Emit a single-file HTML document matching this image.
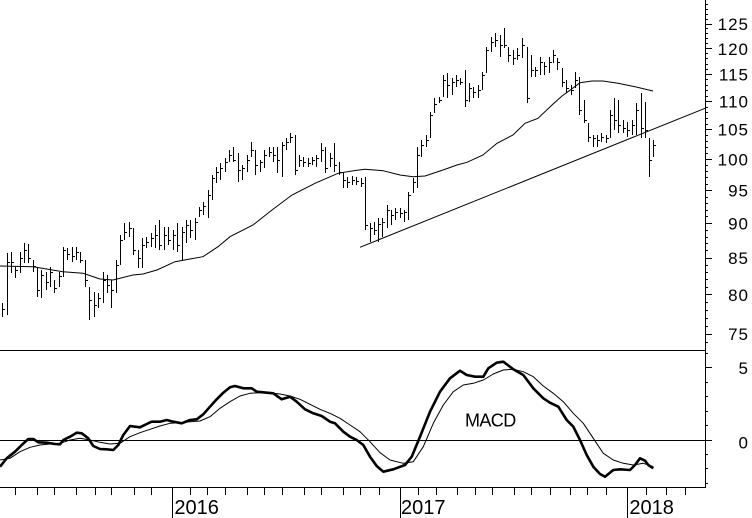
<!DOCTYPE html>
<html><head><meta charset="utf-8"><style>
html,body{margin:0;padding:0;background:#fff;}
svg{display:block;}
text{font-family:"Liberation Sans",Arial,sans-serif;fill:#000;}
</style></head><body>
<svg width="752" height="518" viewBox="0 0 752 518" xmlns="http://www.w3.org/2000/svg">
<rect width="752" height="518" fill="#fff"/>
<!-- frame lines -->
<g stroke="#000" stroke-width="1" shape-rendering="crispEdges" fill="none">
<path d="M705.5 0V488"/>
<path d="M0 350.5H705"/>
<path d="M0 440.5H712"/>
<path d="M0 487.5H705"/>
<!-- price axis ticks -->
<path d="M705 342.5h3M705 334.5h7M705 326.5h3M705 318.5h3M705 310.5h3M705 302.5h3M705 294.5h7M705 287.5h3M705 279.5h3M705 272.5h3M705 265.5h3M705 258.5h7M705 250.5h3M705 243.5h3M705 237.5h3M705 230.5h3M705 223.5h7M705 216.5h3M705 210.5h3M705 203.5h3M705 197.5h3M705 190.5h7M705 184.5h3M705 177.5h3M705 171.5h3M705 165.5h3M705 159.5h7M705 153.5h3M705 147.5h3M705 141.5h3M705 135.5h3M705 129.5h7M705 124.5h3M705 118.5h3M705 112.5h3M705 107.5h3M705 101.5h7M705 96.5h3M705 90.5h3M705 85.5h3M705 79.5h3M705 74.5h7M705 69.5h3M705 64.5h3M705 58.5h3M705 53.5h3M705 48.5h7M705 43.5h3M705 38.5h3M705 33.5h3M705 28.5h3M705 24.5h7M705 19.5h3M705 14.5h3M705 9.5h3M705 4.5h3"/>
<!-- macd ticks -->
<path d="M705 353.5h3M705 367.5h7M705 382.5h3M705 396.5h3M705 411.5h3M705 425.5h3M705 454.5h3M705 468.5h3M705 483.5h3"/>
<!-- month ticks -->
<path d="M15.5 488v7M37.5 488v7M54.5 488v7M76.5 488v7M95.5 488v7M111.5 488v7M134.5 488v7M151.5 488v7M190.5 488v7M207.5 488v7M225.5 488v7M247.5 488v7M264.5 488v7M282.5 488v7M304.5 488v7M321.5 488v7M343.5 488v7M360.5 488v7M379.5 488v7M418.5 488v7M436.5 488v7M457.5 488v7M475.5 488v7M492.5 488v7M514.5 488v7M531.5 488v7M550.5 488v7M570.5 488v7M587.5 488v7M606.5 488v7M646.5 488v7M666.5 488v7M685.5 488v7"/>
<path d="M172.5 488V518M400.5 488V518M627.5 488V518"/>
</g>
<!-- price bars -->
<g stroke="#000" stroke-width="1" shape-rendering="crispEdges" fill="none">
<path d="M2.5 303V317M7.5 253V315M11.5 252V273M15.5 267V278M20.5 252V273M24.5 243V263M28.5 244V263M33.5 260V272M37.5 268V297M41.5 270V298M46.5 272V290M50.5 267V287M54.5 280V293M59.5 272V287M63.5 247V277M67.5 248V260M72.5 247V262M76.5 247V260M80.5 252V263M85.5 260V287M89.5 287V320M94.5 292V317M98.5 293V308M103.5 272V303M107.5 275V293M111.5 280V308M116.5 260V293M120.5 235V265M124.5 223V240M129.5 222V237M133.5 228V255M138.5 250V268M142.5 238V268M146.5 237V248M151.5 233V247M155.5 225V248M159.5 220V250M164.5 227V250M168.5 227V245M173.5 230V250M177.5 223V252M182.5 227V260M186.5 220V243M190.5 220V238M195.5 218V240M199.5 207V217M203.5 202V215M208.5 190V218M212.5 175V200M216.5 167V183M220.5 163V180M225.5 158V172M229.5 150V162M233.5 147V162M238.5 153V182M242.5 165V180M247.5 155V172M251.5 142V157M255.5 150V175M260.5 160V172M264.5 150V168M269.5 147V157M273.5 147V162M277.5 147V173M282.5 142V177M286.5 138V150M290.5 133V143M295.5 135V175M299.5 155V167M303.5 157V167M308.5 158V167M312.5 157V165M316.5 155V167M321.5 143V162M325.5 147V173M330.5 153V167M334.5 143V172M339.5 162V175M343.5 172V188M347.5 177V188M352.5 176V185M356.5 177V185M361.5 178V187M365.5 177V230M370.5 223V242M374.5 222V235M378.5 218V242M382.5 218V237M387.5 205V228M391.5 210V225M395.5 208V220M400.5 208V218M404.5 210V222M408.5 192V220M413.5 178V193M417.5 147V188M421.5 140V157M426.5 135V147M430.5 112V138M434.5 98V113M439.5 97V103M443.5 75V97M447.5 73V98M452.5 78V95M456.5 75V87M460.5 78V85M465.5 70V107M469.5 83V102M473.5 87V98M478.5 85V98M482.5 72V90M486.5 47V73M491.5 37V52M495.5 33V47M500.5 35V57M504.5 28V48M508.5 47V62M513.5 50V65M517.5 48V60M522.5 38V58M527.5 47V103M531.5 55V77M535.5 67V77M540.5 57V75M544.5 62V75M549.5 57V73M553.5 50V63M557.5 58V70M562.5 68V87M566.5 80V93M571.5 85V95M575.5 72V88M579.5 77V115M584.5 100V123M588.5 123V142M593.5 135V147M597.5 135V147M601.5 133V142M606.5 135V143M610.5 110V138M614.5 98V130M618.5 100V133M623.5 120V133M627.5 122V137M632.5 120V135M636.5 103V135M641.5 93V138M645.5 102V138M649.5 138V177M653.5 140V157"/>
<path d="M3 309.5h2M8 262.5h2M12 262.5h2M16 270.5h2M21 258.5h2M25 250.5h2M29 258.5h2M34 266.5h2M38 290.5h2M42 275.5h2M47 282.5h2M51 272.5h2M55 288.5h2M60 276.5h2M64 250.5h2M68 254.5h2M73 256.5h2M77 252.5h2M81 260.5h2M86 280.5h2M90 300.5h2M95 305.5h2M99 298.5h2M104 280.5h2M108 285.5h2M112 290.5h2M117 265.5h2M121 240.5h2M125 232.5h2M130 228.5h2M134 250.5h2M139 258.5h2M143 245.5h2M147 242.5h2M152 238.5h2M156 235.5h2M160 245.5h2M165 235.5h2M169 240.5h2M174 235.5h2M178 245.5h2M183 232.5h2M187 225.5h2M191 230.5h2M196 222.5h2M200 210.5h2M204 206.5h2M209 195.5h2M213 178.5h2M217 172.5h2M221 168.5h2M226 162.5h2M230 155.5h2M234 160.5h2M239 170.5h2M243 168.5h2M248 160.5h2M252 150.5h2M256 165.5h2M261 162.5h2M265 155.5h2M270 152.5h2M274 155.5h2M278 160.5h2M283 145.5h2M287 142.5h2M291 137.5h2M296 170.5h2M300 160.5h2M304 162.5h2M309 163.5h2M313 160.5h2M317 158.5h2M322 150.5h2M326 168.5h2M331 158.5h2M335 165.5h2M340 172.5h2M344 180.5h2M348 182.5h2M353 180.5h2M357 181.5h2M362 183.5h2M366 225.5h2M371 228.5h2M375 230.5h2M379 224.5h2M383 222.5h2M388 210.5h2M392 215.5h2M396 212.5h2M401 213.5h2M405 212.5h2M409 195.5h2M414 182.5h2M418 155.5h2M422 145.5h2M427 140.5h2M431 115.5h2M435 104.5h2M440 100.5h2M444 80.5h2M448 85.5h2M453 82.5h2M457 80.5h2M461 82.5h2M466 100.5h2M470 88.5h2M474 92.5h2M479 90.5h2M483 75.5h2M487 50.5h2M492 42.5h2M496 40.5h2M501 45.5h2M505 45.5h2M509 55.5h2M514 58.5h2M518 55.5h2M523 45.5h2M528 98.5h2M532 70.5h2M536 70.5h2M541 62.5h2M545 66.5h2M550 62.5h2M554 55.5h2M558 62.5h2M563 82.5h2M567 88.5h2M572 90.5h2M576 80.5h2M580 110.5h2M585 120.5h2M589 137.5h2M594 138.5h2M598 140.5h2M602 137.5h2M607 138.5h2M611 115.5h2M615 120.5h2M619 125.5h2M624 128.5h2M628 130.5h2M633 125.5h2M637 110.5h2M642 128.5h2M646 130.5h2M650 160.5h2M654 145.5h2"/>
</g>
<!-- moving average & trendline -->
<g stroke="#000" fill="none" stroke-width="1">
<path d="M0,266 L33,266.7 L63,271.7 L83,273.3 L100,279 L113,280 L117,279 L133,275 L143,274 L157,270 L175,261.7 L190,259 L203,256.7 L218,246.7 L230,236.7 L253,225 L272,210 L292,195 L315,183.3 L338,173.3 L355,170.5 L365,169.3 L383,170.7 L400,175 L413,176.7 L425,176 L443,170 L457,165 L467,162.3 L483,155 L497,143.3 L513,135 L525,123.3 L538,118.3 L552,105 L562,96 L568,91.7 L580,82.7 L592,81 L603,81 L618,83.3 L635,86.7 L653,91"/>
<path d="M360,247.3 L705,108.3"/>
</g>
<!-- MACD -->
<g fill="none" stroke="#000" stroke-linejoin="round">
<path stroke-width="1" d="M0,460 L10,458.3 L20,451.7 L30,447.3 L40,445 L50,444 L60,443.3 L70,440 L80,438.3 L90,440 L100,442.3 L110,444 L120,443.3 L130,436.7 L140,432.7 L150,429.3 L160,426 L170,423.3 L180,422.7 L190,421.7 L200,421 L210,416.7 L220,408.3 L230,401.7 L240,396 L250,393.3 L260,392.7 L270,392.7 L280,394 L290,396 L300,399.3 L310,404.3 L320,409.3 L330,413.3 L340,418.3 L350,425 L360,431.7 L370,441.7 L380,452.7 L390,460 L403.3,463.3 L413.3,461.7 L423.3,446.7 L433.3,423.3 L443.3,405 L453.3,391.7 L463.3,385 L473.3,383.3 L483.3,380 L493.3,374 L503.3,370 L513.3,369.3 L523.3,371.7 L533.3,376.7 L543.3,386 L553.3,393.3 L563.3,401.7 L573.3,413.3 L583.3,423.3 L593.3,438.3 L603.3,453.3 L613.3,460 L623.3,463.3 L633.3,465 L643.3,463.3 L653.3,466.7"/>
<path stroke-width="2.6" d="M0,466.7 L6.7,458.3 L15,451.7 L21.7,445 L28.3,439 L33.3,439 L38.3,442.3 L46.7,442.7 L55,444 L60,444.3 L63.3,440 L70,436.7 L76.7,432.7 L81.7,433.3 L88.3,438.3 L93.3,446 L100,449 L106.7,449.3 L113.3,450 L118.3,445 L123.3,435 L130,426 L135,426.7 L140,427.3 L146.7,424 L151.7,421.7 L160,421.7 L166.7,420 L173.3,421.7 L181.7,423.3 L190,420 L196.7,419.3 L203.3,414.3 L210,406.7 L216.7,399.3 L223.3,392.7 L230,387.3 L235,386 L243.3,388.3 L251.7,388.3 L256.7,391.7 L266.7,392.7 L273.3,393.3 L281.7,399.3 L290,396.7 L296.7,401.7 L305,409.3 L313.3,413.3 L321.7,416 L330,421.7 L335,423.3 L343.3,431.7 L350,436.7 L356.7,440 L363.3,445 L370,456.7 L376.7,466 L383.3,471.7 L393.3,469.3 L405,465 L411.7,456.7 L420,436.7 L430,411.7 L440,391.7 L450,378.3 L460,370.7 L466.7,375 L475,376.7 L483.3,376.7 L488.3,368.3 L496.7,362.7 L503.3,361.7 L513.3,369.3 L523.3,375 L533.3,388.3 L543.3,398.3 L550,402.7 L558.3,406.7 L566.7,420 L573.3,426.7 L580,440 L586.7,455 L593.3,466.7 L600,474 L605,476.7 L613.3,470 L620,469.3 L630,470 L635,465 L640,458.3 L645,460.7 L648.3,465 L653.3,468.3"/>
</g>
<!-- labels -->
<g font-size="17" letter-spacing="1" text-anchor="end">
<text x="749" y="30">125</text>
<text x="749" y="55">120</text>
<text x="749" y="80.5">115</text>
<text x="749" y="107.5">110</text>
<text x="749" y="135.5">105</text>
<text x="749" y="165.5">100</text>
<text x="749" y="196.5">95</text>
<text x="749" y="229.5">90</text>
<text x="749" y="264">85</text>
<text x="749" y="301">80</text>
<text x="749" y="340">75</text>
<text x="749" y="374">5</text>
<text x="749" y="448.5">0</text>
</g>
<g font-size="20">
<text x="174.4" y="514">2016</text>
<text x="401" y="514">2017</text>
<text x="629.4" y="514">2018</text>
</g>
<text x="465" y="426.7" font-size="18" letter-spacing="-0.6">MACD</text>
</svg>
</body></html>
